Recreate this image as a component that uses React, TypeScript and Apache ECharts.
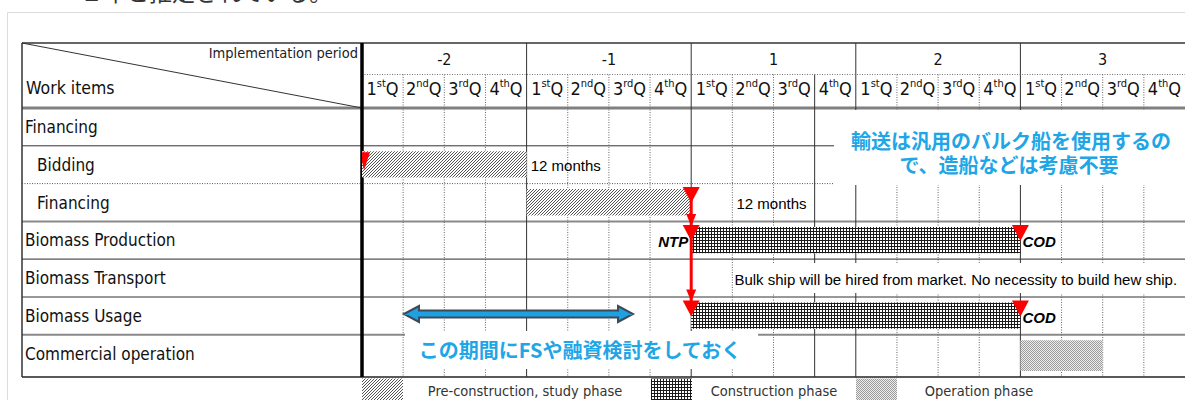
import { useEffect, useRef } from 'react';
import * as echarts from 'echarts';

const FONT = '"DejaVu Sans Condensed", "DejaVu Sans", sans-serif';
const ARIAL = '"Liberation Sans", Arial, sans-serif';
const JP = '"Noto Sans CJK JP", sans-serif';

// ---------- data ----------
const yearLabels = ['-2', '-1', '1', '2', '3'];
const quarterSuffixes = ['st', 'nd', 'rd', 'th'];
const quarterLabels = yearLabels.flatMap(() => quarterSuffixes.map((s, k) => `${k + 1}${s}Q`));
const workItems = ['Financing', 'Bidding', 'Financing', 'Biomass Production', 'Biomass Transport', 'Biomass Usage', 'Commercial operation'];
const indentedItems = [1, 2];
const phaseNames = ['Pre-construction, study phase', 'Construction phase', 'Operation phase'];
// [row, startQuarter, endQuarter, phase]
const taskBars = [
  [1, 0, 4, 0],
  [2, 4, 8, 0],
  [3, 8, 16, 1],
  [5, 8, 16, 1],
  [6, 16, 18, 2],
];
// [row, quarter]
const milestones = [
  [1, 0],
  [2, 8],
  [3, 8],
  [5, 8],
  [3, 16],
  [5, 16],
];
// [quarter, fromRow, toRow]
const dependencyLinks = [[8, 2, 5]];
// [row, quarter]  + texts / sides
const milestoneLabelPos = [[3, 8], [3, 16], [5, 16]];
const milestoneLabelText = ['NTP', 'COD', 'COD'];
const milestoneLabelSide = ['left', 'right', 'right'];
// [row, quarter] + texts
const notePos = [[1, 4.1], [2, 9.1], [4, 9.05]];
const noteText = ['12 months', '12 months', 'Bulk ship will be hired from market. No necessity to build hew ship.'];
const topTextJa = '１年と推定されている。';
const noteJaTopLines = ['輸送は汎用のバルク船を使用するの', 'で、造船などは考慮不要'];
const noteJaBottom = 'この期間にFSや融資検討をしておく';

// ---------- styles ----------
const rowLineStyles = [
  { c: '#808080', w: 3 },
  { c: '#333', w: 1 },
  { c: '#555', w: 1, d: [1, 1.5] },
  { c: '#8a8a8a', w: 2 },
  { c: '#555', w: 1.2 },
  { c: '#333', w: 1 },
  { c: '#8a8a8a', w: 2 },
  { c: '#222', w: 1.5 },
];
const LAST_ROW_EXTRA = 4.4;
const TABLE_LEFT = 22;

function makeTile(size: number, paint: (ctx: CanvasRenderingContext2D) => void) {
  const c = document.createElement('canvas');
  c.width = size;
  c.height = size;
  const ctx = c.getContext('2d')!;
  ctx.fillStyle = '#fff';
  ctx.fillRect(0, 0, size, size);
  paint(ctx);
  return { image: c.toDataURL(), repeat: 'repeat', imageWidth: size, imageHeight: size };
}

export default function App() {
  const ref = useRef<HTMLDivElement>(null);
  useEffect(() => {
    if (!ref.current) return;
    const chart = echarts.init(ref.current, null, { renderer: 'svg' });

    const hatch = makeTile(3, (ctx) => {
      ctx.fillStyle = '#555';
      for (let i = 0; i < 3; i++) ctx.fillRect(i, 2 - i, 1, 1);
    });
    const cross = makeTile(3, (ctx) => {
      ctx.fillStyle = '#1a1a1a';
      ctx.fillRect(0, 0, 3, 1);
      ctx.fillRect(0, 0, 1, 3);
    });
    const dots = makeTile(2, (ctx) => {
      ctx.fillStyle = '#ececec';
      ctx.fillRect(0, 0, 2, 2);
      ctx.fillStyle = '#9c9c9c';
      ctx.fillRect(0, 0, 1, 1);
      ctx.fillRect(1, 1, 1, 1);
    });
    const phasePatterns = [hatch, cross, dots];

    const rowTopOf = (api: any, row: number) => {
      const band = api.size([0, 1])[1];
      return api.coord([0, row])[1] - band / 2;
    };

    const structureRender = (_p: any, api: any) => {
      const band = api.size([0, 1])[1];
      const gridTop = rowTopOf(api, 0);
      const nRows = workItems.length;
      const gridBottom = gridTop + band * nRows;
      const tableBottom = gridBottom + LAST_ROW_EXTRA;
      const tableTop = gridTop - 65;
      const qRowTop = gridTop - 33.5;
      const nQ = quarterLabels.length;
      const xAt = (q: number) => api.coord([q, 0])[0];
      const right = xAt(nQ);
      const children: any[] = [];
      for (let b = 0; b <= nRows; b++) {
        const y = b === nRows ? tableBottom : gridTop + band * b;
        const st = rowLineStyles[b];
        children.push({
          type: 'line',
          shape: { x1: TABLE_LEFT, y1: y, x2: right, y2: y },
          style: { stroke: st.c, lineWidth: st.w, lineDash: st.d || null },
        });
      }
      for (let q = 1; q < nQ; q++) {
        const x = xAt(q);
        if (q % 4 === 0) {
          children.push({ type: 'line', shape: { x1: x, y1: tableTop, x2: x, y2: tableBottom }, style: { stroke: '#333', lineWidth: 1 } });
        } else if (q === 11) {
          children.push({ type: 'line', shape: { x1: x, y1: qRowTop, x2: x, y2: tableBottom }, style: { stroke: '#333', lineWidth: 1 } });
        } else {
          children.push({ type: 'line', shape: { x1: x, y1: qRowTop, x2: x, y2: tableBottom }, style: { stroke: '#666', lineWidth: 1, lineDash: [1, 1.5] } });
        }
      }
      children.push({ type: 'line', shape: { x1: xAt(0), y1: qRowTop, x2: right, y2: qRowTop }, style: { stroke: '#777', lineWidth: 1, lineDash: [1, 1.5] } });
      children.push({ type: 'line', shape: { x1: TABLE_LEFT, y1: tableTop, x2: right, y2: tableTop }, style: { stroke: '#333', lineWidth: 1.5 } });
      children.push({ type: 'line', shape: { x1: TABLE_LEFT, y1: tableTop, x2: TABLE_LEFT, y2: tableBottom }, style: { stroke: '#333', lineWidth: 1.5 } });
      children.push({ type: 'line', shape: { x1: TABLE_LEFT, y1: tableTop, x2: xAt(0), y2: gridTop }, style: { stroke: '#333', lineWidth: 1 } });
      children.push({ type: 'line', shape: { x1: xAt(0), y1: tableTop, x2: xAt(0), y2: tableBottom }, style: { stroke: '#000', lineWidth: 3.5 } });
      return { type: 'group', children };
    };

    const barRender = (params: any, api: any) => {
      const row = api.value(0);
      const s = api.value(1);
      const e = api.value(2);
      const ph = taskBars[params.dataIndex][3];
      const band = api.size([0, 1])[1];
      const top = rowTopOf(api, row);
      let bottom = top + band;
      if (row === workItems.length - 1) bottom += LAST_ROW_EXTRA;
      const x0 = api.coord([s, row])[0];
      const x1 = api.coord([e, row])[0];
      const y0 = top + 5.5;
      const y1 = bottom - 6;
      return {
        type: 'rect',
        shape: { x: x0, y: y0, width: x1 - x0, height: y1 - y0 },
        style: { fill: phasePatterns[ph] },
      };
    };

    const milestoneRender = (_p: any, api: any) => {
      const row = api.value(0);
      const q = api.value(1);
      const x = api.coord([q, row])[0];
      const t = rowTopOf(api, row) + 3.5;
      const edge = q === 0;
      const pts = edge
        ? [[x - 2, t + 3], [x + 8, t + 3], [x + 2, t + 21]]
        : [[x - 8.5, t], [x + 8.5, t], [x, t + 16]];
      return { type: 'polygon', shape: { points: pts }, style: { fill: '#ff0000' } };
    };

    const dependencyRender = (_p: any, api: any) => {
      const q = api.value(0);
      const from = api.value(1);
      const to = api.value(2);
      const x = api.coord([q, from])[0];
      const y1 = rowTopOf(api, from) + 10;
      const y2 = rowTopOf(api, to) + 4;
      const children: any[] = [
        { type: 'line', shape: { x1: x, y1, x2: x, y2 }, style: { stroke: '#ff0000', lineWidth: 3 } },
      ];
      milestones.forEach(([r, mq]) => {
        if (mq === q && r > from && r <= to) {
          const t = rowTopOf(api, r) + 3.5;
          children.push({ type: 'polygon', shape: { points: [[x - 5, t - 11], [x + 5, t - 11], [x, t + 1]] }, style: { fill: '#ff0000' } });
        }
      });
      return { type: 'group', children };
    };

    const milestoneLabelRender = (params: any, api: any) => {
      const i = params.dataIndex;
      const [x, y] = api.coord([api.value(1), api.value(0)]);
      const left = milestoneLabelSide[i] === 'left';
      return {
        type: 'text',
        x: left ? x - 3 : x + 2,
        y: y + 1.5,
        style: {
          text: milestoneLabelText[i],
          fill: '#000',
          fontSize: 15,
          fontWeight: 'bold',
          fontStyle: 'italic',
          fontFamily: ARIAL,
          align: left ? 'right' : 'left',
          verticalAlign: 'middle',
        },
      };
    };

    const noteRender = (params: any, api: any) => {
      const i = params.dataIndex;
      const [x, y] = api.coord([api.value(1), api.value(0)]);
      return {
        type: 'text',
        x,
        y: y + 1,
        style: { text: noteText[i], fill: '#000', fontSize: 15, fontFamily: ARIAL, align: 'left', verticalAlign: 'middle' },
      };
    };

    const legendX = [[362, 403, 525], [651, 692, 774], [856, 897, 979]];

    const option: any = {
      animation: false,
      grid: { left: 362, right: 0, top: 108, height: 264.6, containLabel: false, outerBoundsMode: 'none' },
      xAxis: [
        { type: 'value', min: 0, max: quarterLabels.length, show: false },
        {
          type: 'category',
          data: quarterLabels,
          position: 'top',
          axisLine: { show: false },
          axisTick: { show: false },
          splitLine: { show: false },
          axisLabel: {
            interval: 0,
            margin: 20,
            verticalAlign: 'middle',
            formatter: (v: string) => {
              const m = /^(\d)(\D+)Q$/.exec(v);
              return m ? `{n|${m[1]}}{s|${m[2]}}{n|Q}` : v;
            },
            rich: {
              n: { fontSize: 18, fontFamily: FONT, color: '#111', lineHeight: 20 },
              s: { fontSize: 11, fontFamily: FONT, color: '#111', verticalAlign: 'top', lineHeight: 12 },
            },
          },
        },
        {
          type: 'category',
          data: yearLabels,
          position: 'top',
          axisLine: { show: false },
          axisTick: { show: false },
          splitLine: { show: false },
          axisLabel: { interval: 0, margin: 49, verticalAlign: 'middle', fontSize: 16, fontFamily: FONT, color: '#111' },
        },
      ],
      yAxis: {
        type: 'category',
        inverse: true,
        data: workItems,
        axisLine: { show: false },
        axisTick: { show: false },
        splitLine: { show: false },
        axisLabel: {
          interval: 0,
          align: 'left',
          margin: 337,
          formatter: (v: string, i: number) => (indentedItems.includes(i) ? `{ind|${v}}` : `{base|${v}}`),
          rich: {
            base: { fontSize: 17, fontFamily: FONT, color: '#111' },
            ind: { fontSize: 17, fontFamily: FONT, color: '#111', padding: [0, 0, 0, 12] },
          },
        },
      },
      series: [
        { type: 'custom', z: 1, silent: true, data: [[0, 0]], encode: { x: 0, y: 1 }, renderItem: structureRender },
        { type: 'custom', z: 4, silent: true, data: taskBars, encode: { x: [1, 2], y: 0 }, renderItem: barRender },
        { type: 'custom', z: 6, silent: true, data: notePos, encode: { x: 1, y: 0 }, renderItem: noteRender },
        { type: 'custom', z: 6, silent: true, data: milestoneLabelPos, encode: { x: 1, y: 0 }, renderItem: milestoneLabelRender },
        { type: 'custom', z: 7, silent: true, data: dependencyLinks, encode: { x: 0, y: [1, 2] }, renderItem: dependencyRender },
        { type: 'custom', z: 8, silent: true, clip: true, data: milestones, encode: { x: 1, y: 0 }, renderItem: milestoneRender },
      ],
      graphic: {
        elements: [
          { type: 'rect', z: 0, silent: true, shape: { x: 7.5, y: 12.5, width: 1300, height: 500 }, style: { fill: 'none', stroke: '#dcdcdc', lineWidth: 1 } },
          { type: 'text', z: 10, silent: true, x: 80, y: 2, style: { text: topTextJa, fontSize: 23, fontFamily: JP, fill: '#333', verticalAlign: 'bottom' } },
          { type: 'text', z: 10, silent: true, x: 358, y: 53, style: { text: 'Implementation period', fontSize: 14.5, fontFamily: FONT, fill: '#222', align: 'right', verticalAlign: 'middle' } },
          { type: 'text', z: 10, silent: true, x: 26, y: 88, style: { text: 'Work items', fontSize: 17.5, fontFamily: FONT, fill: '#111', align: 'left', verticalAlign: 'middle' } },
          // white text boxes
          { type: 'rect', z: 3, silent: true, shape: { x: 834, y: 110, width: 360, height: 75 }, style: { fill: '#fff' } },
          { type: 'rect', z: 3, silent: true, shape: { x: 733, y: 263, width: 460, height: 30 }, style: { fill: '#fff' } },
          { type: 'rect', z: 3, silent: true, shape: { x: 405, y: 331, width: 353, height: 38 }, style: { fill: '#fff' } },
          // blue annotations
          { type: 'text', z: 10, silent: true, x: 1011, y: 140, style: { text: noteJaTopLines[0], fontSize: 20, fontWeight: 'bold', fontFamily: JP, fill: '#1ea6e6', align: 'center', verticalAlign: 'middle' } },
          { type: 'text', z: 10, silent: true, x: 1009, y: 164, style: { text: noteJaTopLines[1], fontSize: 20, fontWeight: 'bold', fontFamily: JP, fill: '#1ea6e6', align: 'center', verticalAlign: 'middle' } },
          { type: 'text', z: 10, silent: true, x: 580, y: 349, style: { text: noteJaBottom, fontSize: 20, fontWeight: 'bold', fontFamily: JP, fill: '#1ea6e6', align: 'center', verticalAlign: 'middle' } },
          {
            type: 'polygon', z: 10, silent: true,
            shape: { points: [[404, 314], [419, 306], [419, 310.5], [618, 310.5], [618, 306], [633, 314], [618, 322], [618, 317.5], [419, 317.5], [419, 322]] },
            style: { fill: '#1da1e2', stroke: '#3c4b58', lineWidth: 2, lineJoin: 'miter' },
          },
          // legend
          ...phaseNames.flatMap((name, i) => [
            { type: 'rect', z: 10, silent: true, shape: { x: legendX[i][0], y: 378.5, width: legendX[i][1] - legendX[i][0], height: 25 }, style: { fill: phasePatterns[i] } },
            { type: 'text', z: 10, silent: true, x: legendX[i][2], y: 390.5, style: { text: name, fontSize: 14.5, fontFamily: FONT, fill: '#333', align: 'center', verticalAlign: 'middle' } },
          ]),
        ],
      },
    };
    chart.setOption(option);
    return () => chart.dispose();
  }, []);
  return <div ref={ref} style={{ position: 'absolute', left: 0, top: 0, width: 1185, height: 400, background: '#fff' }} />;
}
